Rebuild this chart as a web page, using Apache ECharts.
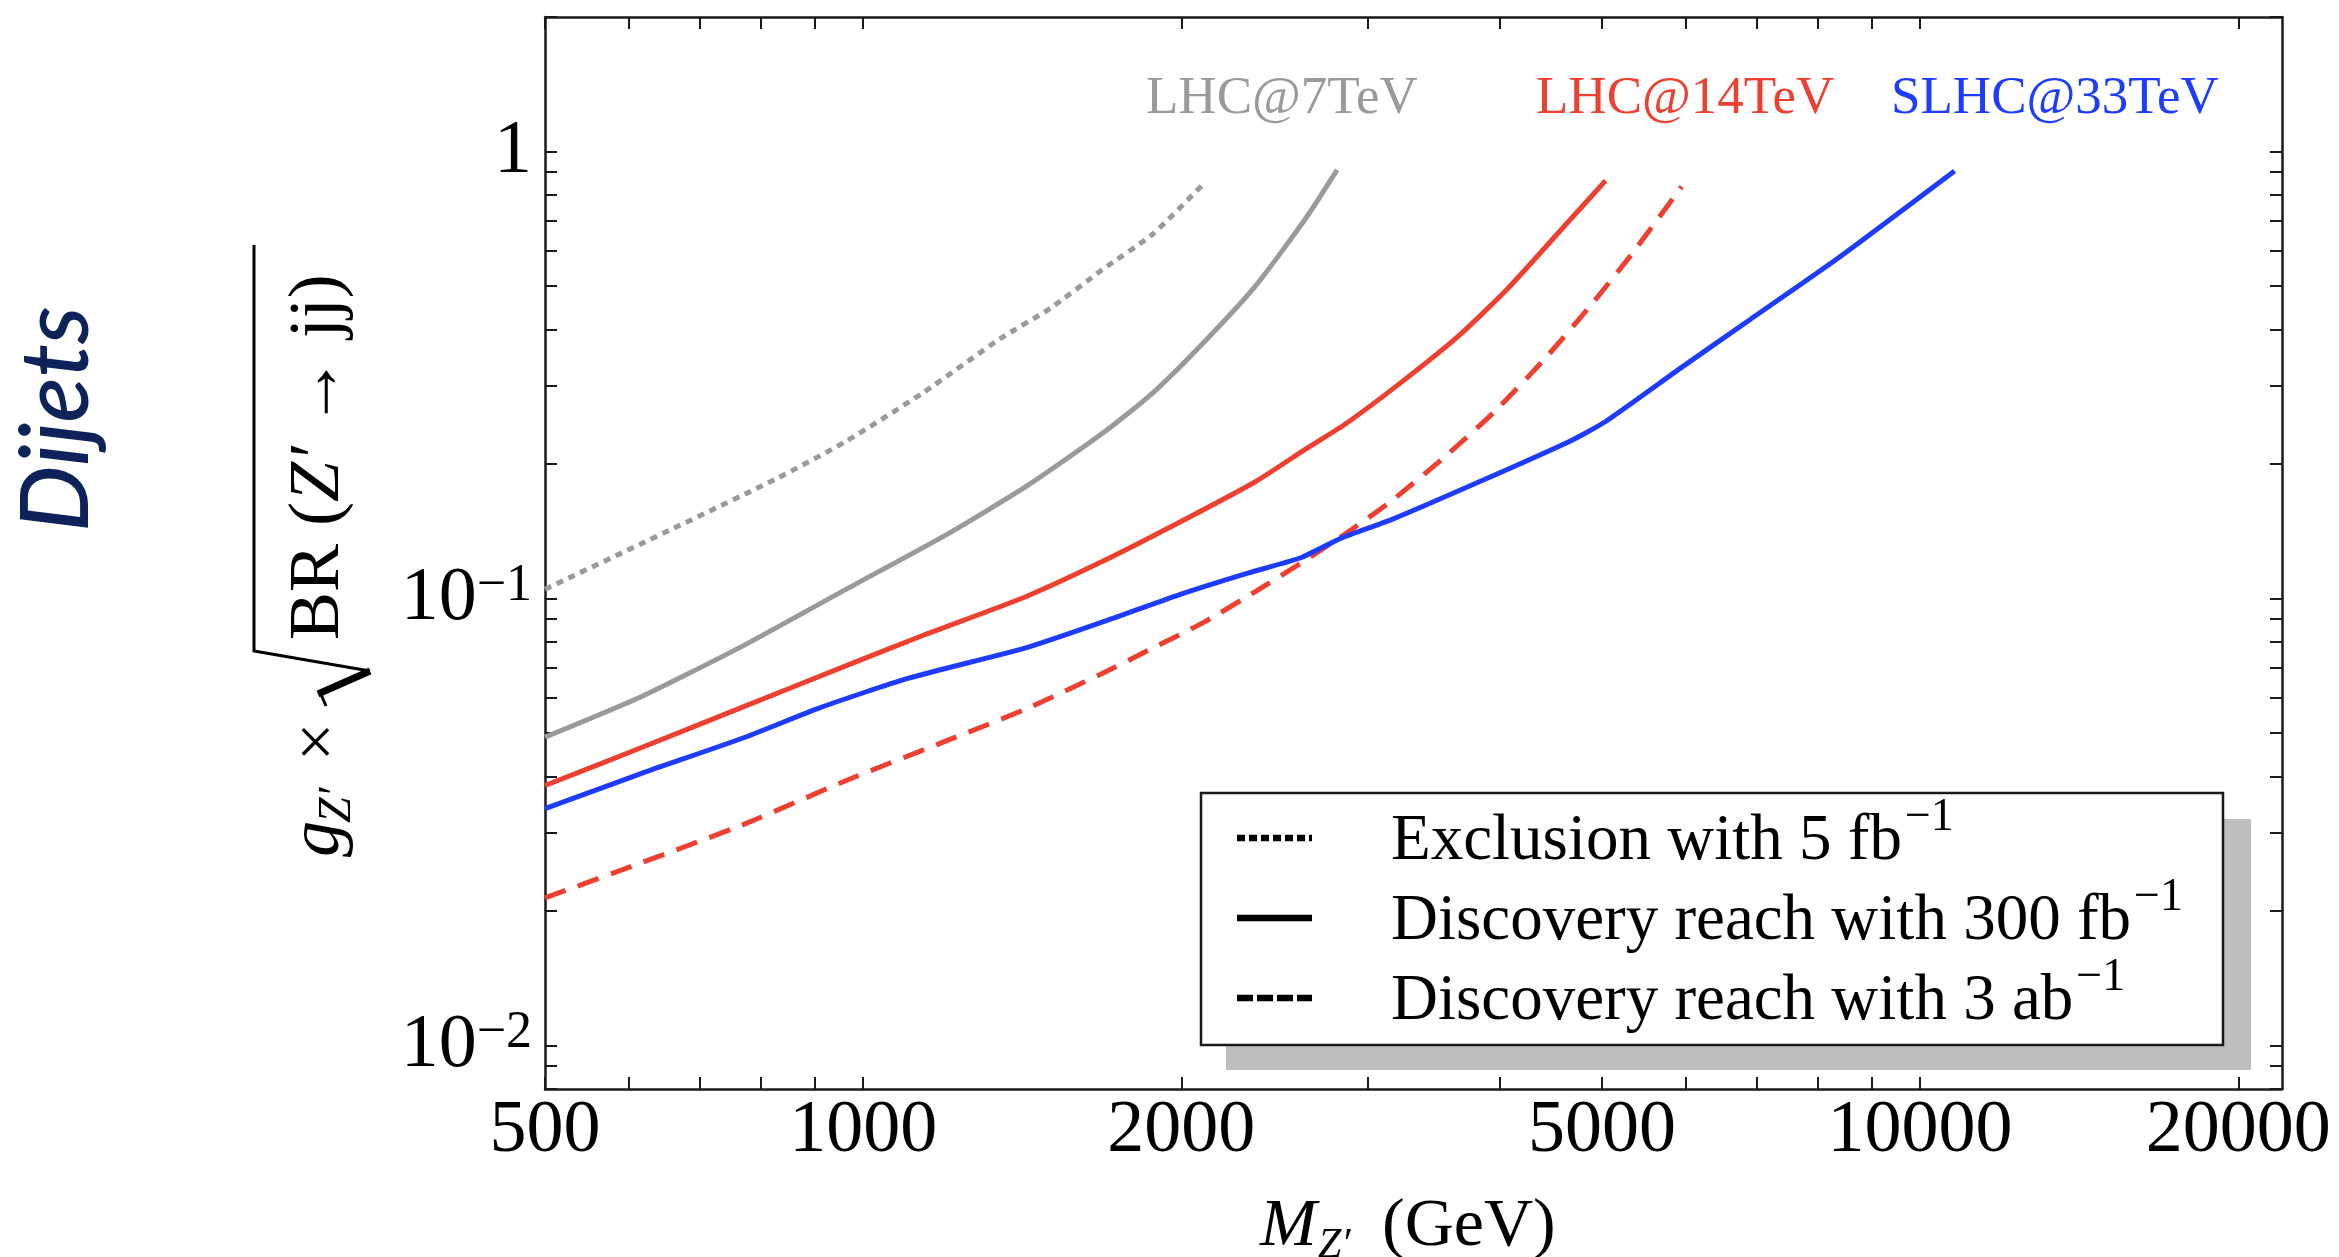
<!DOCTYPE html>
<html><head><meta charset="utf-8">
<script src="https://cdn.jsdelivr.net/npm/echarts@6/dist/echarts.min.js"></script>
<style>html,body{margin:0;padding:0;background:#fff}#c{width:2339px;height:1257px}</style>
</head><body><div id="c"></div>
<script>
// ---- data ----
const xTickVals = [500,600,700,800,900,1000,2000,3000,4000,5000,6000,7000,8000,9000,10000,20000];
const xLabelVals = [500,1000,2000,5000,10000,20000];
const yTickVals = [0.008,0.009,0.01,0.02,0.03,0.04,0.05,0.06,0.07,0.08,0.09,0.1,0.2,0.3,0.4,0.5,0.6,0.7,0.8,0.9,1,2];
const yLabelVals = [0.01,0.1,1];

const lhc7ExclM = [500,618,826,964,1140,1347,1505,1683,1881,2102];
const lhc7ExclG = [0.105,0.133,0.185,0.225,0.289,0.381,0.447,0.544,0.655,0.85];

const lhc7DiscM = [500,618,772,964,1205,1425,1683,1881,2102,2350,2626,2808];
const lhc7DiscG = [0.049,0.0605,0.0787,0.105,0.140,0.178,0.234,0.289,0.375,0.50,0.712,0.91];

const lhc14DiscM = [500,618,772,964,1140,1425,1683,1990,2350,2626,2864,3220,3655,4067,4663,5040];
const lhc14DiscG = [0.0382,0.0465,0.0574,0.0708,0.0828,0.101,0.121,0.148,0.1826,0.2165,0.2465,0.303,0.386,0.492,0.703,0.861];

const lhc14HlM = [500,618,772,964,1205,1425,1683,1881,2102,2350,2623,2864,3157,3550,3951,4396,4846,5343,5948];
const lhc14HlG = [0.0214,0.0257,0.0313,0.0392,0.0483,0.0566,0.068,0.0776,0.0886,0.1037,0.122,0.140,0.165,0.2075,0.261,0.340,0.444,0.592,0.835];

const slhc33DiscM = [500,618,772,912,1102,1425,1683,1990,2299,2598,2834,3157,3837,4663,5040,5948,6885,8366,10780];
const slhc33DiscG = [0.0339,0.0407,0.0489,0.0571,0.0663,0.0776,0.0886,0.102,0.1136,0.1236,0.1366,0.150,0.183,0.225,0.249,0.329,0.419,0.578,0.905];

const seriesNames = ['LHC@7TeV','LHC@14TeV','SLHC@33TeV'];
const legendTexts = ['Exclusion with 5 fb','Discovery reach with 300 fb','Discovery reach with 3 ab'];

// ---- helpers ----
const cv = document.createElement('canvas').getContext('2d');
function fontStr(p){ return (p.italic?'italic ':'') + (p.weight||'normal') + ' ' + p.size + 'px "' + (p.family||'Liberation Serif') + '"'; }
function midOff(font){
  cv.font = font; cv.textBaseline = 'alphabetic';
  const a = cv.measureText('H').actualBoundingBoxAscent;
  cv.textBaseline = 'middle';
  const m = cv.measureText('H').actualBoundingBoxAscent;
  cv.textBaseline = 'alphabetic';
  return a - m;
}
function textRun(pieces, ox, oy, rot, fill){
  let x = 0; const children = [];
  pieces.forEach(p => {
    if (p.at !== undefined) x = p.at;
    const f = fontStr(p); cv.font = f;
    const w = cv.measureText(p.t).width;
    children.push({type:'text', x:x, y:(p.dy||0) - midOff(f), silent:true, z:100,
      style:{text:p.t, fontSize:p.size, fontFamily:p.family||'Liberation Serif', fontWeight:p.weight||'normal',
        fontStyle:p.italic?'italic':'normal', fill:p.fill||fill, align:'left', verticalAlign:'middle'}});
    x += w + (p.gap||0);
  });
  return {type:'group', x:ox, y:oy, rotation:rot||0, children:children, z:100};
}
const zip = (a,b) => a.map((v,i)=>[v,b[i]]);

const GRAY = '#9a9a9a', RED = '#ee4030', BLUE = '#1e3cff', INK = '#1a1a1a';
const serif = 'Liberation Serif';

function logAxis(pos, isX, showLabel){
  return {
    type:'log', logBase:10, position:pos,
    min: isX ? 500 : 0.008, max: isX ? 22000 : 2,
    axisLine:{show:true, onZero:false, lineStyle:{color:INK, width:2.5}},
    axisTick:{show:true, inside:true, length:12, lineStyle:{color:INK, width:2},
      customValues: isX ? xTickVals : yTickVals},
    minorTick:{show:false}, splitLine:{show:false}, minorSplitLine:{show:false},
    axisLabel: showLabel ? (isX ? {
      show:true, customValues:xLabelVals, fontFamily:serif, fontSize:74, color:'#000', margin:6,
      formatter: v => String(Math.round(v))
    } : {
      show:true, customValues:yLabelVals, fontFamily:serif, fontSize:76, color:'#000', margin:13,
      formatter: v => Math.abs(v-1) < 1e-6 ? '{b|1}' : '{b|10}{s|−' + Math.round(-Math.log10(v)) + '}',
      rich:{
        b:{fontFamily:serif, fontSize:76, lineHeight:76, color:'#000'},
        s:{fontFamily:serif, fontSize:52, lineHeight:52, verticalAlign:'top', color:'#000'}
      }
    }) : {show:false}
  };
}

function lineSeries(m, g, color, dash){
  return {type:'line', xAxisIndex:0, yAxisIndex:0, data:zip(m,g), symbol:'none', showSymbol:false,
    smooth:0.2, silent:true, clip:true,
    lineStyle:{color:color, width:5, type:dash, cap:'butt'}};
}

const graphics = [];
// legend shadow + box
graphics.push({type:'rect', z:90, silent:true, shape:{x:1226, y:819, width:1025, height:251}, style:{fill:'#bebebe'}});
graphics.push({type:'rect', z:91, silent:true, shape:{x:1201, y:793, width:1022, height:252}, style:{fill:'#fff', stroke:INK, lineWidth:2.5}});
const rows = [838, 918, 998];
const dashes = [[8,4], null, [16,4]];
rows.forEach((ry,i) => {
  graphics.push({type:'line', z:95, silent:true, shape:{x1:1237, y1:ry, x2:1312, y2:ry},
    style:{stroke:'#000', lineWidth:6.5, lineDash:dashes[i] || null}});
  graphics.push(textRun([{t:legendTexts[i], size:65, gap:3}, {t:'−1', size:46, dy:-29}], 1391, ry + 21, 0, '#000'));
});
// collider labels
graphics.push(textRun([{t:seriesNames[0], size:53}], 1146, 113, 0, GRAY));
graphics.push(textRun([{t:seriesNames[1], size:53}], 1536, 113, 0, RED));
graphics.push(textRun([{t:seriesNames[2], size:53}], 1891, 113, 0, BLUE));
// x-axis title
graphics.push(textRun([{t:'M', size:68, italic:true}, {t:'Z′', size:42, italic:true, dy:12, at:58}, {t:'(GeV)', size:68, at:122}], 1260, 1245, 0, '#000'));
// y-axis title (rotated)
graphics.push(textRun([
  {t:'g', size:72, italic:true, at:0},
  {t:'Z′', size:46, italic:true, dy:12, at:34},
  {t:'×', size:68, at:96},
  {t:'BR (', size:72, at:217},
  {t:'Z′', size:72, italic:true},
  {t:' → jj)', size:72}
], 338, 857, Math.PI/2, '#000'));
// radical sign
graphics.push({type:'polyline', z:100, silent:true, shape:{points:[[254,245],[254,651],[370,671]]}, style:{stroke:'#000', lineWidth:3, fill:null}});
graphics.push({type:'polyline', z:100, silent:true, shape:{points:[[370,671],[318,694]]}, style:{stroke:'#000', lineWidth:7, fill:null}});
graphics.push({type:'polyline', z:100, silent:true, shape:{points:[[320,692],[326,706]]}, style:{stroke:'#000', lineWidth:3, fill:null}});
// side title
graphics.push(textRun([{t:'Dijets', size:94, italic:true, family:'Lato', weight:500}], 88, 532, Math.PI/2, '#0c2258'));

const chart = echarts.init(document.getElementById('c'), null, {renderer:'canvas'});
chart.setOption({
  animation:false,
  backgroundColor:'#fff',
  grid:{left:545, right:57, top:17, bottom:168, containLabel:false, outerBoundsMode:'none'},
  xAxis:[logAxis('bottom', true, true), logAxis('top', true, false)],
  yAxis:[logAxis('left', false, true), logAxis('right', false, false)],
  series:[
    lineSeries(lhc7ExclM, lhc7ExclG, GRAY, [7,6]),
    lineSeries(lhc7DiscM, lhc7DiscG, GRAY, 'solid'),
    lineSeries(lhc14DiscM, lhc14DiscG, RED, 'solid'),
    lineSeries(lhc14HlM, lhc14HlG, RED, [22,13]),
    lineSeries(slhc33DiscM, slhc33DiscG, BLUE, 'solid')
  ],
  graphic:graphics
});
</script></body></html>
